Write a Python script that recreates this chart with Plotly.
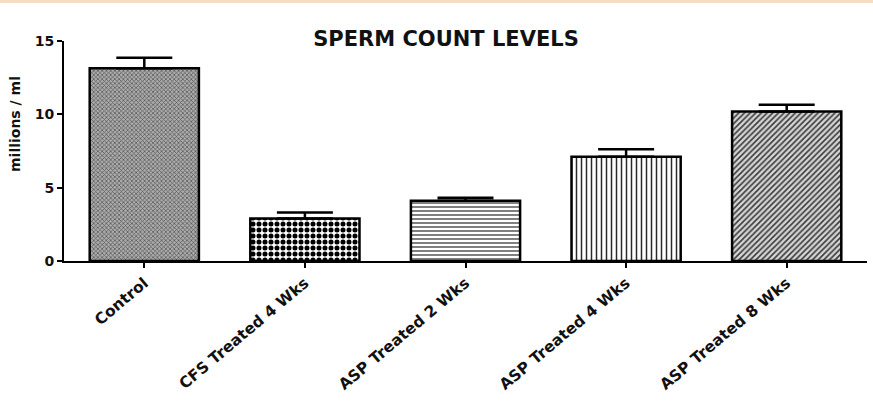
import plotly.graph_objects as go

categories = ["Control", "CFS Treated 4 Wks", "ASP Treated 2 Wks", "ASP Treated 4 Wks", "ASP Treated 8 Wks"]
means = [13.15, 2.9, 4.1, 7.1, 10.2]
sem = [0.7, 0.4, 0.22, 0.52, 0.45]
y_ticks = [0, 5, 10, 15]

patterns = [
    dict(shape="x", size=3, solidity=0.4, fgcolor="#505050", bgcolor="#ababab", fillmode="replace"),
    dict(shape=".", size=6, solidity=0.55, fgcolor="#000000", bgcolor="#ffffff", fillmode="replace"),
    dict(shape="-", size=4, solidity=0.3, fgcolor="#2a2a2a", bgcolor="#ffffff", fillmode="replace"),
    dict(shape="|", size=5, solidity=0.3, fgcolor="#2a2a2a", bgcolor="#ffffff", fillmode="replace"),
    dict(shape="/", size=4, solidity=0.4, fgcolor="#3a3a3a", bgcolor="#d6d6d6", fillmode="replace"),
]

fig = go.Figure()
for i, cat in enumerate(categories):
    fig.add_trace(go.Bar(
        x=[cat], y=[means[i]],
        width=0.68,
        marker=dict(color="white", line=dict(color="black", width=2.5), pattern=patterns[i]),
        error_y=dict(type="data", symmetric=False, array=[sem[i]], arrayminus=[0],
                     color="black", thickness=2.5, width=28),
        showlegend=False,
    ))

font_family = "DejaVu Sans"

fig.update_layout(
    width=873, height=410,
    margin=dict(l=64, r=6, t=41, b=149),
    paper_bgcolor="white", plot_bgcolor="white",
    barmode="overlay",
    title=dict(text="SPERM COUNT LEVELS", x=446/873, xanchor="center", y=1 - 39/410, yanchor="middle",
               font=dict(family=font_family, size=21, color="#111", weight="bold")),
    xaxis=dict(
        categoryorder="array", categoryarray=categories,
        range=[-0.5, 4.5],
        showline=True, linecolor="black", linewidth=2,
        ticks="outside", ticklen=5, tickwidth=2, tickcolor="black",
        tickangle=-40,
        tickfont=dict(family=font_family, size=15.5, color="#111", weight="bold"),
        showgrid=False, zeroline=False,
    ),
    yaxis=dict(
        range=[0, 15],
        tickvals=y_ticks, ticktext=[str(v) for v in y_ticks],
        showline=True, linecolor="black", linewidth=2,
        ticks="outside", ticklen=5, tickwidth=2, tickcolor="black",
        tickfont=dict(family=font_family, size=14, color="#111", weight="bold"),
        showgrid=False, zeroline=False,
    ),
    shapes=[dict(
        type="rect", xref="paper", yref="paper",
        xsizemode="pixel", ysizemode="pixel", xanchor=0, yanchor=1,
        x0=-64, x1=809, y0=38, y1=42,
        fillcolor="#f5dcc5", line=dict(width=0), layer="above",
    )],
    annotations=[dict(
        text="millions / ml", xref="paper", yref="paper",
        x=(15 - 64) / 803, y=(261 - 124) / 220, xanchor="center", yanchor="middle",
        textangle=-90, showarrow=False,
        font=dict(family=font_family, size=14, color="#111", weight="bold"),
    )],
)

fig.write_html("out.html")
